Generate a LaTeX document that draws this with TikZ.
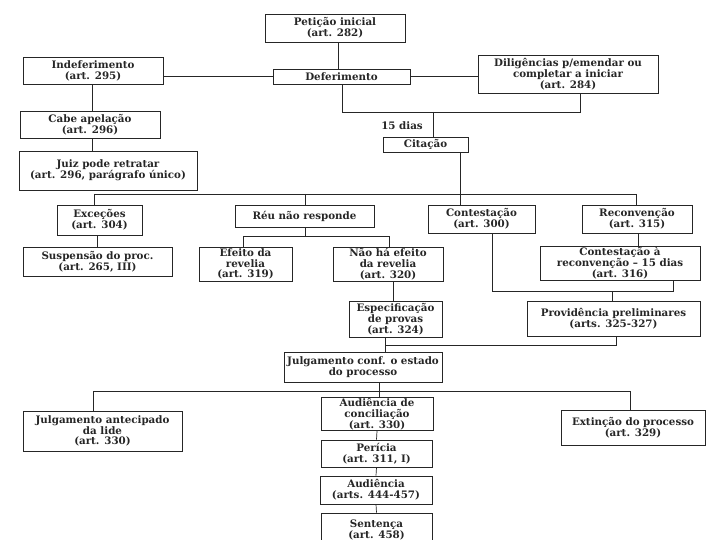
\documentclass[tikz,border=0pt]{standalone}
\usepackage{fontspec}
\setmainfont{DejaVu Serif}
\definecolor{ink}{HTML}{262626}
\begin{document}
\begin{tikzpicture}[x=1pt,y=-1pt,
  box/.style={draw=ink, line width=0.8pt, fill=white, inner sep=1pt, align=center,
    text=ink, font=\fontsize{10.3}{10.8}\selectfont\bfseries},
  conn/.style={draw=ink, line width=0.7pt},
  lbl/.style={text=ink, font=\fontsize{10.3}{10.8}\selectfont\bfseries}]
\useasboundingbox[fill=white] (0,0) rectangle (720,540);
% boxes
\node[box,minimum width=140pt,minimum height=28pt] (pet) at (335,28) {Petição inicial\\(art. 282)};
\node[box,minimum width=140pt,minimum height=27pt] (indef) at (93,70.5) {Indeferimento\\(art. 295)};
\node[box,minimum width=137pt,minimum height=15pt] (def) at (341.5,76.5) {Deferimento};
\node[box,minimum width=180pt,minimum height=38pt] (dil) at (568,74) {Diligências p/emendar ou\\completar a iniciar\\(art. 284)};
\node[box,minimum width=140pt,minimum height=27pt] (cabe) at (90,124.5) {Cabe apelação\\(art. 296)};
\node[box,minimum width=85pt,minimum height=15pt] (cit) at (425.5,144.5) {Citação};
\node[box,minimum width=178pt,minimum height=39pt] (juiz) at (108,170.5) {Juiz pode retratar\\(art. 296, parágrafo único)};
\node[box,minimum width=85pt,minimum height=30pt] (exc) at (99.5,220) {Exceções\\(art. 304)};
\node[box,minimum width=139pt,minimum height=22pt] (reu) at (304.5,216) {Réu não responde};
\node[box,minimum width=107pt,minimum height=28pt] (cont) at (481.5,219) {Contestação\\(art. 300)};
\node[box,minimum width=110pt,minimum height=28pt] (recon) at (637,219) {Reconvenção\\(art. 315)};
\node[box,minimum width=149pt,minimum height=29pt] (susp) at (97.5,261.5) {Suspensão do proc.\\(art. 265, III)};
\node[box,minimum width=93pt,minimum height=34pt] (efe) at (245.5,264) {Efeito da\\revelia\\(art. 319)};
\node[box,minimum width=110pt,minimum height=34pt] (nao) at (388,264) {Não há efeito\\da revelia\\(art. 320)};
\node[box,minimum width=160pt,minimum height=34pt] (cr) at (620,263) {Contestação à\\reconvenção -- 15 dias\\(art. 316)};
\node[box,minimum width=93pt,minimum height=36pt] (esp) at (395.5,319) {Especificação\\de provas\\(art. 324)};
\node[box,minimum width=173pt,minimum height=35pt] (prov) at (613.5,318.5) {Providência preliminares\\(arts. 325-327)};
\node[box,minimum width=158pt,minimum height=30pt] (jce) at (363,367) {Julgamento conf. o estado\\do processo};
\node[box,minimum width=159pt,minimum height=40pt] (jant) at (102.5,431) {Julgamento antecipado\\da lide\\(art. 330)};
\node[box,minimum width=112pt,minimum height=32pt] (aud1) at (377,414) {Audiência de\\conciliação\\(art. 330)};
\node[box,minimum width=144pt,minimum height=35pt] (ext) at (633,427.5) {Extinção do processo\\(art. 329)};
\node[box,minimum width=111pt,minimum height=27pt] (per) at (376.5,453.5) {Perícia\\(art. 311, I)};
\node[box,minimum width=112pt,minimum height=28pt] (aud2) at (376,490) {Audiência\\(arts. 444-457)};
\node[box,minimum width=111pt,minimum height=34pt] (sent) at (376.5,530) {Sentença\\(art. 458)};
\node[lbl] (dias) at (402,126) {15 dias};
% helper coordinates
\coordinate (xPD) at (338,0);
\coordinate (jDef) at (342,112);
\coordinate (jDil) at (580,112);
\coordinate (jCit) at (433,112);
\coordinate (xIC) at (92,0);
\coordinate (xES) at (97,0);
\coordinate (busA) at (94,194);
\coordinate (busB) at (636,194);
\coordinate (busR) at (305,194);
\coordinate (busC) at (460,194);
\coordinate (revL) at (243,236);
\coordinate (revR) at (389,236);
\coordinate (xNE) at (393,0);
\coordinate (xEJ) at (385,0);
\coordinate (provJ) at (616,345);
\coordinate (ctL) at (492,291);
\coordinate (ctR) at (673,291);
\coordinate (ctP) at (612,291);
\coordinate (xRC) at (638,0);
\coordinate (jbL) at (93,391);
\coordinate (jbR) at (630,391);
\coordinate (jbM) at (379,391);
% connectors
\draw[conn] (xPD |- pet.south) -- (xPD |- def.north);
\draw[conn] (indef.east |- def.west) -- (def.west);
\draw[conn] (def.east) -- (def.east -| dil.west);
\draw[conn] (jDef |- def.south) -- (jDef) -- (jDil) -- (jDil |- dil.south);
\draw[conn] (jCit) -- (jCit |- cit.north);
\draw[conn] (xIC |- indef.south) -- (xIC |- cabe.north);
\draw[conn] (xIC |- cabe.south) -- (xIC |- juiz.north);
\draw[conn] (busA) -- (busB);
\draw[conn] (busA) -- (busA |- exc.north);
\draw[conn] (busR) -- (busR |- reu.north);
\draw[conn] (busC |- cit.south) -- (busC |- cont.north);
\draw[conn] (busB) -- (busB |- recon.north);
\draw[conn] (xES |- exc.south) -- (xES |- susp.north);
\draw[conn] (busR |- reu.south) -- (busR |- revL);
\draw[conn] (revL |- efe.north) -- (revL) -- (revR) -- (revR |- nao.north);
\draw[conn] (xNE |- nao.south) -- (xNE |- esp.north);
\draw[conn] (xEJ |- esp.south) -- (xEJ |- jce.north);
\draw[conn] (xEJ |- provJ) -- (provJ) -- (provJ |- prov.south);
\draw[conn] (ctL |- cont.south) -- (ctL) -- (ctR) -- (ctR |- cr.south);
\draw[conn] (ctP) -- (ctP |- prov.north);
\draw[conn] (xRC |- recon.south) -- (xRC |- cr.north);
\draw[conn] (jbM |- jce.south) -- (jbM |- aud1.north);
\draw[conn] (jbL |- jant.north) -- (jbL) -- (jbR) -- (jbR |- ext.north);
\draw[conn] (aud1.south) -- (per.north);
\draw[conn] (per.south) -- (aud2.north);
\draw[conn] (aud2.south) -- (sent.north);
\end{tikzpicture}
\end{document}
